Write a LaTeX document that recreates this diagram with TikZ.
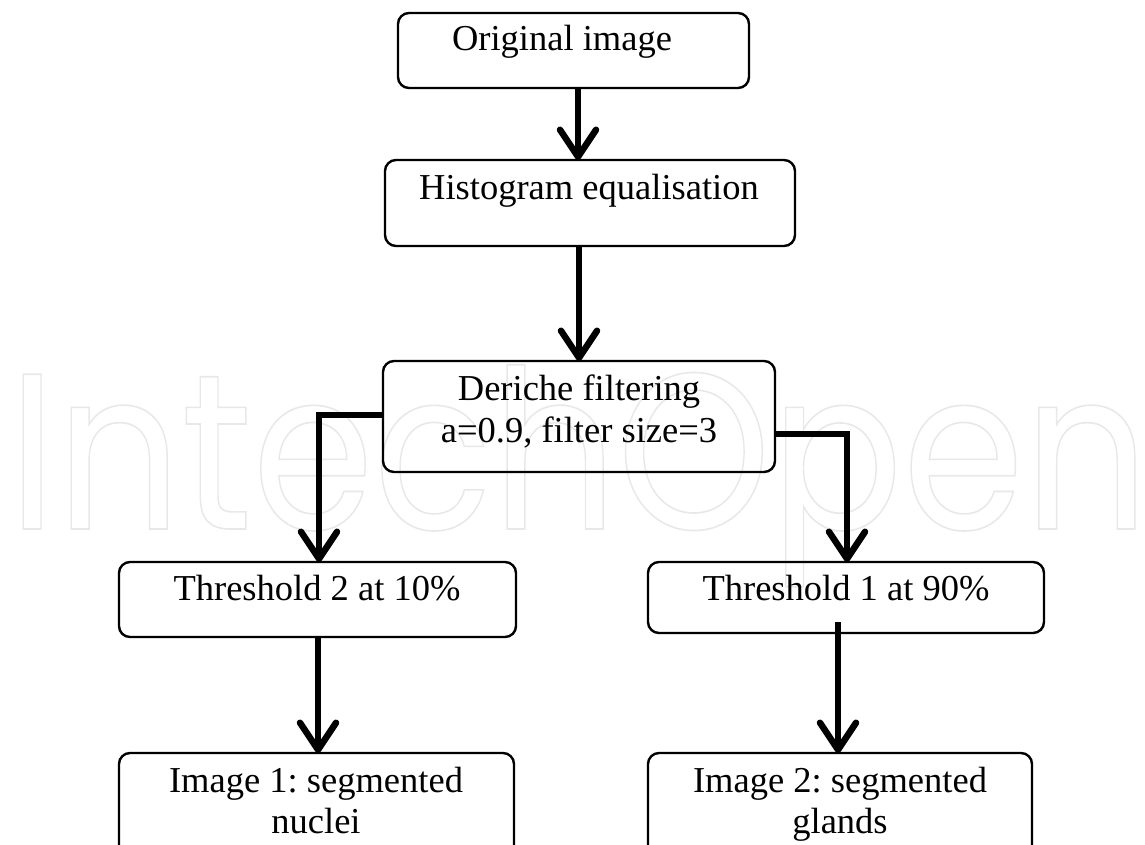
\documentclass[tikz,border=0pt]{standalone}
\usepackage[T1]{fontenc}
\usepackage{fontspec}
\usetikzlibrary{arrows.meta}
\newfontfamily\wmfont{Poppins}
\IfFileExists{ec-qplr.tfm}{%
  \newcommand{\palfont}{\fontencoding{T1}\fontfamily{qpl}\selectfont}}{%
  \IfFileExists{pplr8t.tfm}{%
    \newcommand{\palfont}{\fontencoding{T1}\fontfamily{ppl}\selectfont}}{%
    \newfontfamily\palfont{Liberation Serif}}}
\newcommand{\outl}[1]{\special{pdf:literal direct 1 Tr 1.6 w}#1\special{pdf:literal direct 0 Tr}}
\frenchspacing
\begin{document}
\begin{tikzpicture}[x=1pt,y=-1pt,
  box/.style={draw=black, line width=2.4pt, rounded corners=11pt, inner sep=0pt, outer sep=0pt, anchor=north west},
  txt/.style={font=\palfont\frenchspacing\fontsize{36.5}{42}\selectfont, anchor=base, inner sep=0pt},
  arr/.style={line width=6.5pt, line join=miter, -{Straight Barb[length=27pt,width=36pt,round]}},
]
\path[use as bounding box] (0,0) rectangle (1145,844);
\clip (0,0) rectangle (1145,844);
\fill[white] (0,0) rectangle (1145,844);

% watermark
\node[anchor=base west, inner sep=0pt, text=black!9, transform shape, xscale=0.88,
      font=\wmfont\fontsize{222}{222}\selectfont] (wm) at (8,529) {\outl{IntechOpen}};

% boxes
\node[box, minimum width=351, minimum height=75] (orig) at (398,13) {};
\node[box, minimum width=410, minimum height=86] (hist) at (385,160) {};
\node[box, minimum width=392, minimum height=111] (der) at (383,361) {};
\node[box, minimum width=397, minimum height=75] (th2) at (119,562) {};
\node[box, minimum width=396, minimum height=71] (th1) at (648,562) {};
\node[box, minimum width=395, minimum height=120] (im1) at (119,753) {};
\node[box, minimum width=384, minimum height=120] (im2) at (648,753) {};

% texts
\node[txt] (torig) at (562,50) {Original image};
\node[txt] (thist) at (589,199) {Histogram equalisation};
\node[txt] (tder1) at (579,400) {Deriche filtering};
\node[txt] (tder2) at (579,442) {a=0.9, filter size=3};
\node[txt] (tth2) at (317,600) {Threshold 2 at 10\%};
\node[txt] (tth1) at (846,600) {Threshold 1 at 90\%};
\node[txt] (tim1a) at (316,792) {Image 1: segmented};
\node[txt] (tim1b) at (316,833) {nuclei};
\node[txt] (tim2a) at (840,792) {Image 2: segmented};
\node[txt] (tim2b) at (840,833) {glands};

% connectors
\coordinate (c1) at (578,0);
\coordinate (c2) at (579,0);
\coordinate (lc) at (319,415);
\coordinate (rc) at (847,434);
\coordinate (c3) at (318,0);
\coordinate (c4) at (838,0);
\draw[arr] (orig.south -| c1) -- (hist.north -| c1);
\draw[arr] (hist.south -| c2) -- (der.north -| c2);
\draw[arr] (der.west |- lc) -- (lc) -- (th2.north -| lc);
\draw[arr] (der.east |- rc) -- (rc) -- (th1.north -| rc);
\draw[arr] (th2.south -| c3) -- (im1.north -| c3);
\draw[arr] ([yshift=11pt]th1.south -| c4) -- (im2.north -| c4);
\end{tikzpicture}
\end{document}
